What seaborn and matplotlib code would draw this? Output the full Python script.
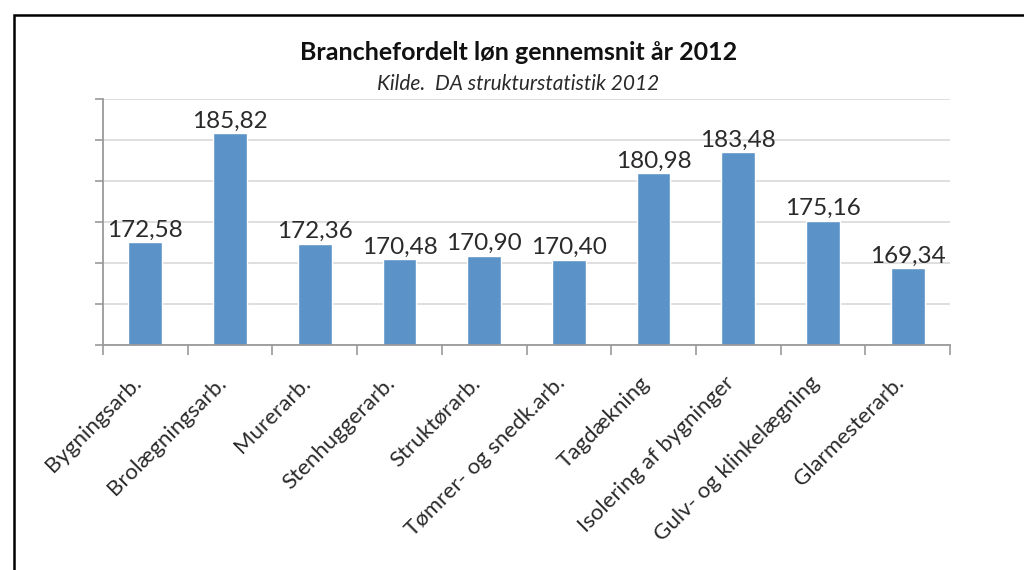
import pandas as pd
import seaborn as sns
import matplotlib.pyplot as plt
from matplotlib.patches import Rectangle
from matplotlib.ticker import MultipleLocator, FixedLocator, NullFormatter

brancher = ['Bygningsarb.', 'Brolægningsarb.', 'Murerarb.', 'Stenhuggerarb.',
            'Struktørarb.', 'Tømrer- og snedk.arb.', 'Tagdækning',
            'Isolering af bygninger', 'Gulv- og klinkelægning', 'Glarmesterarb.']
loen = [172.58, 185.82, 172.36, 170.48, 170.90, 170.40, 180.98, 183.48, 175.16, 169.34]

df = pd.DataFrame({'branche': brancher, 'loen': loen})

sns.set_theme(style='white')
plt.rcParams['font.family'] = ['Lato', 'DejaVu Sans']

fig = plt.figure(figsize=(10.24, 5.7), dpi=100)
ax = fig.add_axes([103 / 1024, 1 - 345 / 570, (950 - 103) / 1024, (345 - 99) / 570])

sns.barplot(data=df, x='branche', y='loen', color='#5B93C9', saturation=1,
            width=0.4, ax=ax)

ax.set_ylim(160, 190)
ax.set_xlim(-0.5, len(brancher) - 0.5)
ax.yaxis.set_major_locator(MultipleLocator(5))
ax.yaxis.set_major_formatter(NullFormatter())
ax.yaxis.grid(True, color='#D9D9D9', linewidth=1.2)
ax.set_axisbelow(True)

for side in ['top', 'right']:
    ax.spines[side].set_visible(False)
for side in ['left', 'bottom']:
    ax.spines[side].set_color('#9A9A9A')
    ax.spines[side].set_linewidth(1.3)

ax.tick_params(axis='y', which='major', left=True, length=6, width=1.2, color='#9A9A9A')
ax.xaxis.set_minor_locator(FixedLocator([i - 0.5 for i in range(len(brancher) + 1)]))
ax.tick_params(axis='x', which='minor', bottom=True, length=7, width=1.2, color='#9A9A9A')
ax.tick_params(axis='x', which='major', bottom=False, length=0, pad=20)
ax.set_xticks(range(len(brancher)))
ax.set_xticklabels(brancher, rotation=45, ha='right', fontsize=16, color='#2A2A2A')

ax.set_xlabel('')
ax.set_ylabel('')

ax.bar_label(ax.containers[0], labels=[f'{v:.2f}'.replace('.', ',') for v in loen],
             padding=1, fontsize=17.5, color='#2A2A2A')

fig.text(519 / 1024, 1 - 53 / 570, 'Branchefordelt løn gennemsnit år 2012',
         ha='center', va='center', fontsize=18, fontweight='bold', color='#111111')
fig.text(518 / 1024, 1 - 84 / 570, 'Kilde.  DA strukturstatistik 2012',
         ha='center', va='center', fontsize=15, style='italic', color='#2A2A2A')

fig.patches.append(Rectangle((14 / 1024, -0.1), 2, 1.1 - 15 / 570, transform=fig.transFigure,
                             fill=False, edgecolor='black', linewidth=1.8))

fig.savefig('out.png', dpi=100)
